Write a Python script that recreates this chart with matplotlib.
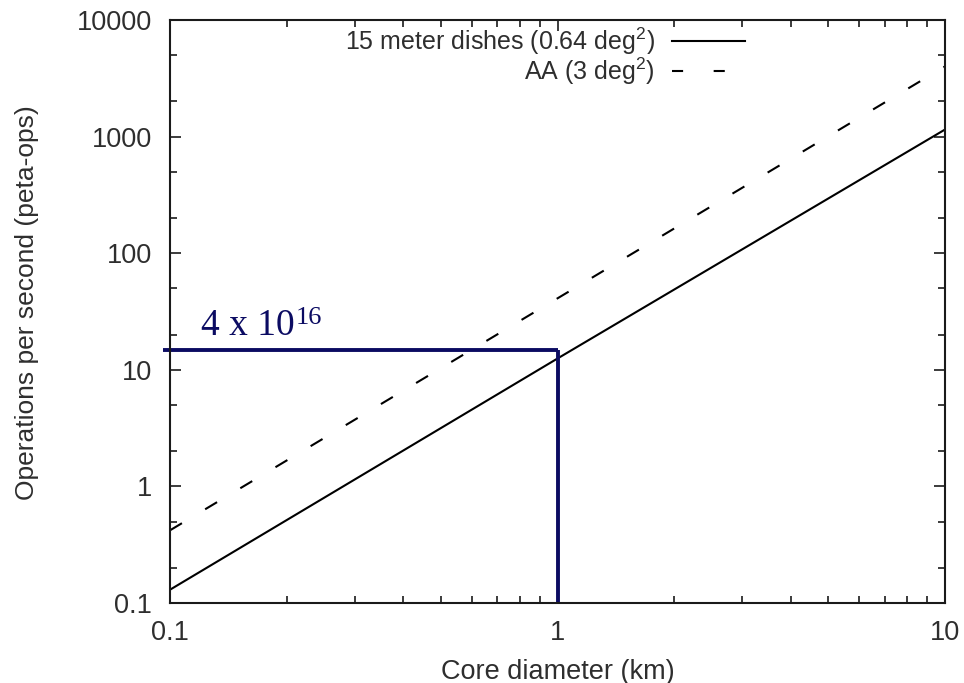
import matplotlib
matplotlib.use('Agg')
import matplotlib.pyplot as plt
from matplotlib.lines import Line2D
from matplotlib.ticker import LogLocator, NullFormatter, FixedLocator

# Compute load vs. core diameter for the two receiver options
core_km = [0.1, 1.0, 10.0]
dishes_ops = [0.13, 12.5, 1150.0]     # 15 m dishes, 0.64 deg^2
aa_ops = [0.42, 41.0, 4000.0]         # aperture array, 3 deg^2

# Marked operating point (1 km core)
mark_km = 1.0
mark_ops = 14.8
mark_base = '4 x 10'
mark_exp = '16'

x_ticks = [0.1, 1, 10]
x_ticklabels = ['0.1', '1', '10']
y_ticks = [0.1, 1, 10, 100, 1000, 10000]
y_ticklabels = ['0.1', '1', '10', '100', '1000', '10000']

labels = [r'15 meter dishes (0.64 deg$\mathregular{^2}$)',
          r'AA (3 deg$\mathregular{^2}$)']

plt.rcParams['font.family'] = ['Liberation Sans', 'DejaVu Sans']
plt.rcParams['lines.scale_dashes'] = False
text_color = '#2e2e2e'
navy = '#0b0b62'
fs = 19.5

fig = plt.figure(figsize=(9.64, 6.83), dpi=100)
ax = fig.add_axes([170 / 964, 80 / 683, 775 / 964, 583 / 683])

ax.plot(core_km, dishes_ops, color='black', lw=1.5)
ax.plot(core_km, aa_ops, color='black', lw=1.5, dashes=(10, 19.5))

ax.set_xscale('log')
ax.set_yscale('log')
ax.set_xlim(0.1, 10)
ax.set_ylim(0.1, 10000)

ax.xaxis.set_major_locator(FixedLocator(x_ticks))
ax.set_xticklabels(x_ticklabels)
ax.xaxis.set_minor_locator(LogLocator(base=10, subs=range(2, 10)))
ax.xaxis.set_minor_formatter(NullFormatter())
ax.yaxis.set_major_locator(FixedLocator(y_ticks))
ax.set_yticklabels(y_ticklabels)
ax.yaxis.set_minor_locator(LogLocator(base=10, subs=(2, 5)))
ax.yaxis.set_minor_formatter(NullFormatter())

ax.tick_params(which='both', direction='in', top=True, right=True,
               colors='#1a1a1a', labelcolor=text_color, labelsize=fs, width=1.2)
ax.tick_params(which='major', length=8)
ax.tick_params(which='minor', length=5)
ax.tick_params(axis='x', pad=12)
ax.tick_params(axis='y', pad=13)
for s in ax.spines.values():
    s.set_linewidth(1.5)
    s.set_color('#1a1a1a')

ax.set_xlabel('Core diameter (km)', fontsize=fs, color=text_color, va='center')
ax.xaxis.set_label_coords(0.5, -0.118)
ax.set_ylabel('Operations per second (peta-ops)', fontsize=19, color=text_color,
              va='center')
ax.yaxis.set_label_coords(-0.184, 0.515)

# Legend in gnuplot style: right-aligned text, sample line to its right
for i, lab in enumerate(labels):
    yy = 0.964 - i * 0.052
    ax.text(0.626, yy, lab, transform=ax.transAxes, ha='right', va='center',
            fontsize=18, color=text_color)
    ln = Line2D([0.648, 0.742], [yy, yy], transform=ax.transAxes,
                color='black', lw=1.5)
    if i == 1:
        ln.set_dashes((8, 22))
    ax.add_line(ln)

# Operating point bracket
x_left = ax.get_xlim()[0] * 10 ** (-0.018)
ax.plot([x_left, mark_km], [mark_ops, mark_ops], color=navy, lw=2.8,
        clip_on=False, solid_capstyle='butt')
ax.plot([mark_km, mark_km], [mark_ops, ax.get_ylim()[0]], color=navy, lw=2.8,
        clip_on=False, solid_capstyle='butt')
base = ax.annotate(mark_base, xy=(ax.get_xlim()[0], mark_ops), xytext=(22, 11),
                   textcoords='offset points', ha='left', va='baseline',
                   fontsize=27, color=navy, family='Liberation Serif')
ax.annotate(mark_exp, xy=(1, 1), xycoords=base, xytext=(1, 1),
            textcoords='offset points', ha='left', va='top',
            fontsize=19, color=navy, family='Liberation Serif')

fig.savefig('out.png', dpi=100)
